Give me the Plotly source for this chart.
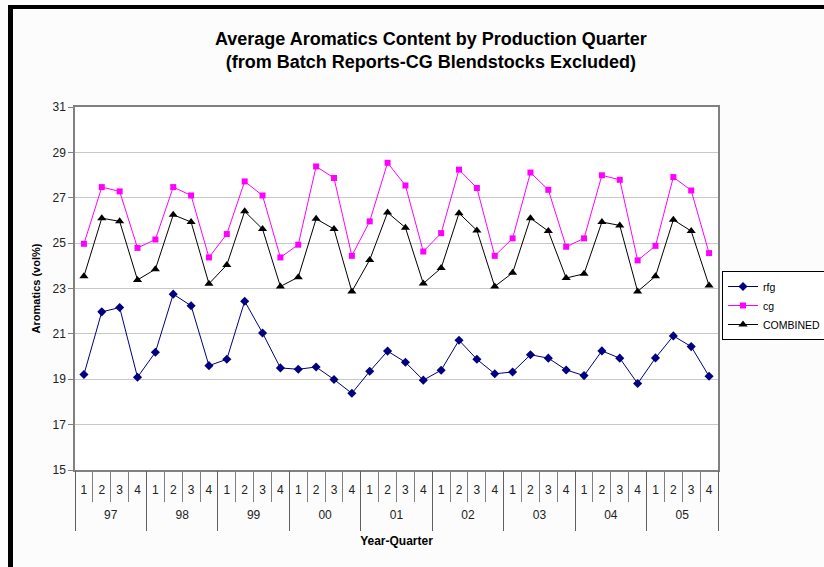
import plotly.graph_objects as go

years = ["97", "98", "99", "00", "01", "02", "03", "04", "05"]
quarters = ["1", "2", "3", "4"]

rfg = [19.21, 21.97, 22.16, 19.09, 20.19, 22.75, 22.24, 19.60, 19.88, 22.44, 21.04, 19.50,
       19.44, 19.54, 18.99, 18.38, 19.35, 20.24, 19.75, 18.96, 19.40, 20.72, 19.88, 19.24,
       19.32, 20.08, 19.93, 19.41, 19.16, 20.25, 19.93, 18.81, 19.94, 20.91, 20.44, 19.13]
cg = [24.97, 27.47, 27.28, 24.79, 25.16, 27.47, 27.10, 24.37, 25.40, 27.72, 27.10, 24.37,
      24.93, 28.38, 27.87, 24.44, 25.96, 28.54, 27.54, 24.63, 25.44, 28.24, 27.43, 24.44,
      25.21, 28.11, 27.35, 24.84, 25.21, 27.99, 27.79, 24.24, 24.88, 27.91, 27.32, 24.56]
combined = [23.54, 26.10, 25.96, 23.38, 23.85, 26.25, 25.93, 23.21, 24.04, 26.40, 25.62, 23.09,
            23.50, 26.07, 25.62, 22.87, 24.26, 26.35, 25.68, 23.22, 23.90, 26.32, 25.56, 23.09,
            23.69, 26.10, 25.53, 23.46, 23.65, 25.93, 25.78, 22.87, 23.54, 26.03, 25.53, 23.13]

y_ticks = [15, 17, 19, 21, 23, 25, 27, 29, 31]

# category per production quarter, e.g. "97-1"
cats = [f"{y}-{q}" for y in years for q in quarters]
q_text = [q for _ in years for q in quarters]
nq = len(quarters)
n = len(cats)
year_centers = [i * nq + (nq - 1) / 2 for i in range(len(years))]
year_bounds = [i * nq - 0.5 for i in range(len(years) + 1)]

W, H = 824, 567
L, R, T, B = 75, 718, 107, 470

def px(v):
    return (v - L) / (R - L)

def py(v):
    return (B - v) / (B - T)

font = "Liberation Sans, Arial, sans-serif"

fig = go.Figure()
fig.add_trace(go.Scatter(x=cats, y=rfg, name="rfg", mode="lines+markers",
                         line=dict(color="#000080", width=1),
                         marker=dict(symbol="diamond", size=7, color="#000080")))
fig.add_trace(go.Scatter(x=cats, y=cg, name="cg", mode="lines+markers",
                         line=dict(color="#ff00ff", width=1),
                         marker=dict(symbol="square", size=6, color="#ff00ff")))
fig.add_trace(go.Scatter(x=cats, y=combined, name="COMBINED", mode="lines+markers",
                         line=dict(color="#000000", width=1),
                         marker=dict(symbol="triangle-up", size=8, color="#000000")))
# empty trace so the year-level axis is drawn
fig.add_trace(go.Scatter(x=[], y=[], xaxis="x2", yaxis="y", showlegend=False, hoverinfo="skip"))

fig.update_layout(
    width=W, height=H,
    margin=dict(l=L, r=W - R, t=T, b=H - B, pad=0, autoexpand=False),
    paper_bgcolor="#fcfcfc",
    plot_bgcolor="#ffffff",
    font=dict(family=font, size=12, color="#222222"),
    showlegend=True,
    legend=dict(x=px(722), y=py(271), xanchor="left", yanchor="top",
                bgcolor="#ffffff", bordercolor="#000000", borderwidth=1,
                font=dict(family=font, size=10.5, color="#000000"),
                tracegroupgap=0, itemwidth=30),
    xaxis=dict(type="category", range=[-0.5, n - 0.5], tickvals=cats, ticktext=q_text,
               showgrid=False, showline=True, linecolor="#808080",
               linewidth=1.5, mirror=True, ticks="outside", tickson="boundaries",
               ticklen=30, tickcolor="#808080", ticklabelstandoff=8,
               tickfont=dict(size=12, color="#222222")),
    xaxis2=dict(overlaying="x", anchor="y", side="bottom", range=[-0.5, n - 0.5],
                tickmode="array", tickvals=year_centers, ticktext=years,
                showgrid=False, showline=False, zeroline=False, ticks="",
                ticklabelstandoff=36, tickfont=dict(size=12, color="#222222"),
                minor=dict(tickmode="array", tickvals=year_bounds, ticks="outside",
                           ticklen=60, tickcolor="#606060", tickwidth=1, showgrid=False),
                title=dict(text="<b>Year-Quarter</b>", font=dict(size=12, color="#000000"),
                           standoff=15)),
    yaxis=dict(range=[15, 31], tickvals=y_ticks, showgrid=True, gridcolor="#c8c8c8",
               gridwidth=1, showline=True, linecolor="#808080", linewidth=1.5, mirror=True,
               ticks="outside", ticklen=5, tickcolor="#808080", zeroline=False,
               tickfont=dict(size=12, color="#222222"),
               title=dict(text="<b>Aromatics (vol%)</b>", font=dict(size=11, color="#000000"),
                          standoff=10)),
    annotations=[dict(text="<b>Average Aromatics Content by Production Quarter<br>(from Batch Reports-CG Blendstocks Excluded)</b>",
                      x=px(431), y=py(50), xref="paper", yref="paper", showarrow=False,
                      xanchor="center", yanchor="middle",
                      font=dict(family=font, size=18, color="#000000"))],
    shapes=[
        dict(type="rect", xref="paper", yref="paper", x0=px(8), x1=px(13), y0=py(5), y1=py(570),
             fillcolor="#000000", line=dict(width=0), layer="above"),
        dict(type="rect", xref="paper", yref="paper", x0=px(8), x1=px(830), y0=py(5), y1=py(9),
             fillcolor="#000000", line=dict(width=0), layer="above"),
    ],
)

fig.write_html("out.html", config={"displayModeBar": False},
               post_script="document.body.style.margin='0';")
